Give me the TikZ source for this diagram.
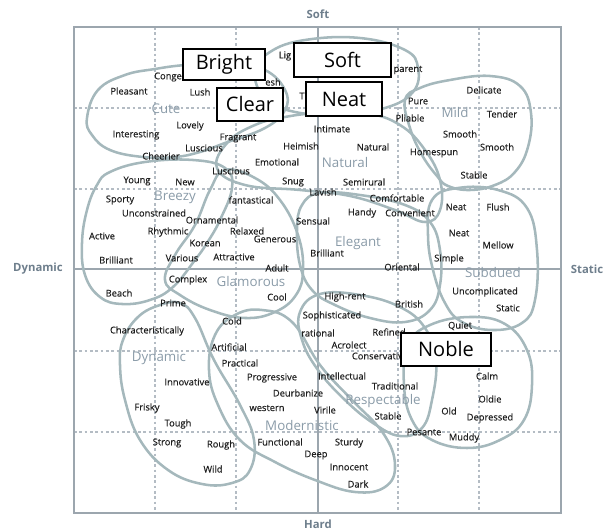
\documentclass[tikz,border=0pt]{standalone}
\usepackage{fontspec}
\setmainfont{Open Sans}
\newfontfamily\wordfont[FakeBold=0.35]{Open Sans}
\definecolor{blob}{HTML}{A5B8BC}
\definecolor{gridc}{HTML}{B4BCC4}
\definecolor{axisc}{HTML}{9CA6AE}
\definecolor{labc}{HTML}{8A9BA8}
\definecolor{axl}{HTML}{6E7E8C}
\definecolor{wd}{HTML}{1E1E1E}
\begin{document}
\begin{tikzpicture}[x=0.75pt,y=-0.75pt,
  w/.style={font=\wordfont\fontsize{7}{8}\selectfont, text=wd, inner sep=0pt},
  grp/.style={font=\fontsize{10}{12}\selectfont, text=labc, inner sep=0pt},
  axlab/.style={font=\bfseries\fontsize{8.5}{10}\selectfont, text=axl, inner sep=0pt},
  bx/.style={draw=black, line width=1.1pt, fill=white, font=\fontsize{15}{18}\selectfont, inner sep=0pt},
  bl/.style={draw=blob, line width=1.9pt},
  gl/.style={draw=gridc, line width=0.8pt, dash pattern=on 2pt off 2pt}]
\useasboundingbox (0,0) rectangle (608,531);
% grid
\foreach \g in {155,236,398,479} {\draw[gl] (\g,27) -- (\g,513);}
\foreach \g in {108,189,351,432} {\draw[gl] (74,\g) -- (561,\g);}
\draw[axisc, line width=0.8pt] (74,27) rectangle (561,513);
\draw[axisc, line width=0.8pt] (318,27) -- (318,513);
\draw[axisc, line width=0.8pt] (74,269) -- (561,269);
% axis labels
\node[axlab] (soft) at (318,14) {Soft};
\node[axlab] (hard) at (318,524) {Hard};
\node[axlab] (dyn) at (38,269) {Dynamic};
\node[axlab] (sta) at (587,269) {Static};
% blobs
% Cute
\draw[bl] plot[smooth cycle, tension=0.7] coordinates {(87,118) (98,90) (125,75) (155,69) (185,65) (230,62) (265,70) (285,90) (285,110) (265,128) (225,143) (200,152) (175,157) (143,157) (110,150) (92,135)};
% Soft
\draw[bl] plot[smooth cycle, tension=0.7] coordinates {(255,72) (270,52) (305,40) (360,38) (405,50) (418,68) (413,92) (385,108) (340,114) (295,112) (265,98)};
% Mild
\draw[bl] plot[smooth cycle, tension=0.7] coordinates {(405,100) (420,88) (450,80) (490,76) (520,86) (531,113) (528,147) (515,172) (495,185) (470,190) (448,186) (437,176) (422,155) (410,128)};
% Natural
\draw[bl] plot[smooth cycle, tension=0.7] coordinates {(217,168) (228,142) (255,125) (285,117) (320,113) (365,113) (400,125) (425,150) (440,180) (440,210) (425,222) (395,210) (350,196) (300,190) (245,185)};
% Breezy
\draw[bl] plot[smooth cycle, tension=0.7] coordinates {(110,172) (145,162) (193,160) (225,168) (232,188) (220,220) (207,243) (195,260) (173,287) (150,300) (122,304) (100,297) (85,275) (82,243) (87,210) (97,185)};
% Glamorous
\draw[bl] plot[smooth cycle, tension=0.7] coordinates {(225,170) (255,178) (280,200) (298,235) (303,270) (296,295) (275,312) (245,318) (210,310) (180,295) (165,280) (175,255) (195,225) (210,190)};
% Elegant
\draw[bl] plot[smooth cycle, tension=0.7] coordinates {(302,205) (320,193) (360,195) (405,205) (430,222) (440,250) (440,285) (430,310) (405,322) (370,318) (335,305) (312,290) (300,265) (297,230)};
% Subdued
\draw[bl] plot[smooth cycle, tension=0.7] coordinates {(432,200) (458,188) (498,190) (527,208) (537,250) (535,300) (522,323) (492,330) (462,322) (445,303) (433,270) (428,235)};
% Dynamic
\draw[bl] plot[smooth cycle, tension=0.7] coordinates {(123,340) (138,317) (160,305) (180,303) (195,318) (214,360) (240,405) (254,440) (250,470) (232,483) (202,484) (168,470) (140,440) (125,400) (120,365)};
% Modernistic
\draw[bl] plot[smooth cycle, tension=0.7] coordinates {(215,335) (235,315) (262,310) (292,322) (320,365) (350,398) (383,433) (395,465) (385,487) (355,492) (315,480) (275,462) (240,440) (218,405) (209,370)};
% Respectable
\draw[bl] plot[smooth cycle, tension=0.7] coordinates {(300,312) (320,294) (360,295) (400,307) (425,328) (436,360) (432,400) (422,428) (400,436) (373,423) (345,400) (318,370) (302,340)};
% Noble
\draw[bl] plot[smooth cycle, tension=0.7] coordinates {(408,345) (430,325) (470,317) (505,324) (527,350) (532,385) (524,420) (500,440) (467,448) (432,440) (412,420) (404,385)};
% group labels
\node[grp] (gcute) at (166,109) {Cute};
\node[grp] (gnat) at (345,163) {Natural};
\node[grp] (gmild) at (455,113) {Mild};
\node[grp] (gbre) at (175,197) {Breezy};
\node[grp] (gele) at (358,243) {Elegant};
\node[grp] (ggla) at (251,282) {Glamorous};
\node[grp] (gsub) at (493,273) {Subdued};
\node[grp] (gdyn) at (159,358) {Dynamic};
\node[grp] (gmod) at (302,426) {Modernistic};
\node[grp] (gres) at (383,401) {Respectable};
% words
\node[w] (a1) at (168,77) {Conge};
\node[w] (a2) at (129,91) {Pleasant};
\node[w] (a3) at (200,92) {Lush};
\node[w] (a4) at (190,126) {Lovely};
\node[w] (a5) at (136,135) {Interesting};
\node[w] (a6) at (238,138) {Fragrant};
\node[w] (a7) at (204,148) {Luscious};
\node[w] (a8) at (161,156) {Cheerier};
\node[w] (a9) at (231,171) {Luscious};
\node[w] (a10) at (137,181) {Young};
\node[w] (a11) at (185,182) {New};
\node[w] (b1) at (285,56) {Lig};
\node[w] (b2) at (273,82) {esh};
\node[w] (b3) at (302,96) {T};
\node[w] (b4) at (408,70) {parent};
\node[w] (b5) at (418,101) {Pure};
\node[w] (b6) at (410,118) {Pliable};
\node[w] (b7) at (332,129) {Intimate};
\node[w] (b8) at (301,146) {Heimish};
\node[w] (b9) at (373,147) {Natural};
\node[w] (b10) at (277,162) {Emotional};
\node[w] (b11) at (434,153) {Homespun};
\node[w] (b12) at (293,182) {Snug};
\node[w] (b13) at (364,182) {Semirural};
\node[w] (b14) at (323,192) {Lavish};
\node[w] (c1) at (484,90) {Delicate};
\node[w] (c2) at (502,114) {Tender};
\node[w] (c3) at (460,134) {Smooth};
\node[w] (c4) at (497,147) {Smooth};
\node[w] (c5) at (474,175) {Stable};
\node[w] (d1) at (120,200) {Sporty};
\node[w] (d2) at (154,213) {Unconstrained};
\node[w] (d3) at (212,220) {Ornamental};
\node[w] (d4) at (102,236) {Active};
\node[w] (d5) at (168,232) {Rhythmic};
\node[w] (d6) at (205,243) {Korean};
\node[w] (d7) at (116,260) {Brilliant};
\node[w] (d8) at (182,258) {Various};
\node[w] (d9) at (234,257) {Attractive};
\node[w] (d10) at (188,280) {Complex};
\node[w] (d11) at (119,293) {Beach};
\node[w] (d12) at (173,303) {Prime};
\node[w] (d13) at (147,331) {Characteristically};
\node[w] (e1) at (251,200) {fantastical};
\node[w] (e2) at (397,198) {Comfortable};
\node[w] (e3) at (362,213) {Handy};
\node[w] (e4) at (410,213) {Convenient};
\node[w] (e5) at (313,221) {Sensual};
\node[w] (e6) at (247,231) {Relaxed};
\node[w] (e7) at (275,239) {Generous};
\node[w] (e8) at (327,253) {Brilliant};
\node[w] (e9) at (402,267) {Oriental};
\node[w] (e10) at (277,268) {Adult};
\node[w] (e11) at (277,297) {Cool};
\node[w] (e12) at (345,297) {High-rent};
\node[w] (e13) at (409,304) {British};
\node[w] (e14) at (232,321) {Cold};
\node[w] (e15) at (332,316) {Sophisticated};
\node[w] (e16) at (318,333) {rational};
\node[w] (e17) at (389,332) {Refined};
\node[w] (f1) at (456,207) {Neat};
\node[w] (f2) at (498,207) {Flush};
\node[w] (f3) at (459,233) {Neat};
\node[w] (f4) at (498,245) {Mellow};
\node[w] (f5) at (449,259) {Simple};
\node[w] (f6) at (485,292) {Uncomplicated};
\node[w] (f7) at (508,308) {Static};
\node[w] (f8) at (460,326) {Quiet};
\node[w] (g1) at (229,347) {Artificial};
\node[w] (g2) at (240,363) {Practical};
\node[w] (g3) at (187,382) {Innovative};
\node[w] (g4) at (147,408) {Frisky};
\node[w] (g5) at (178,424) {Tough};
\node[w] (g6) at (167,443) {Strong};
\node[w] (g7) at (221,445) {Rough};
\node[w] (g8) at (213,469) {Wild};
\node[w] (h1) at (349,345) {Acrolect};
\node[w] (h2) at (380,356) {Conservative};
\node[w] (h3) at (272,378) {Progressive};
\node[w] (h4) at (342,376) {Intellectual};
\node[w] (h5) at (395,386) {Traditional};
\node[w] (h6) at (298,393) {Deurbanize};
\node[w] (h7) at (267,408) {western};
\node[w] (h8) at (325,410) {Virile};
\node[w] (h9) at (388,416) {Stable};
\node[w] (h10) at (280,442) {Functional};
\node[w] (h11) at (349,443) {Sturdy};
\node[w] (h12) at (316,455) {Deep};
\node[w] (h13) at (349,467) {Innocent};
\node[w] (h14) at (358,484) {Dark};
\node[w] (h15) at (424,432) {Pesante};
\node[w] (i1) at (487,376) {Calm};
\node[w] (i2) at (490,399) {Oldie};
\node[w] (i3) at (449,411) {Old};
\node[w] (i4) at (490,418) {Depressed};
\node[w] (i5) at (464,438) {Muddy};
% boxes
\node[bx, minimum width=61.5pt, minimum height=23.5pt] (kb) at (224,64.5) {Bright};
\node[bx, minimum width=49.5pt, minimum height=24.75pt] (kc) at (250,104.5) {Clear};
\node[bx, minimum width=72.75pt, minimum height=25.5pt] (ks) at (342.5,60) {Soft};
\node[bx, minimum width=57pt, minimum height=25.5pt] (kn) at (344,99) {Neat};
\node[bx, minimum width=67.5pt, minimum height=24.75pt] (ko) at (446,349.5) {Noble};
\end{tikzpicture}
\end{document}
